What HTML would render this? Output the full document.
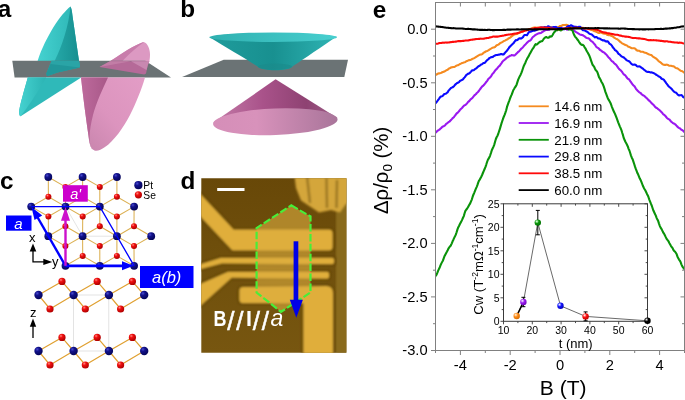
<!DOCTYPE html>
<html><head><meta charset="utf-8"><title>Figure</title>
<style>
html,body{margin:0;padding:0;background:#fff;}
body{width:685px;height:400px;overflow:hidden;}
svg{display:block;}
text{font-family:"Liberation Sans",Arial,sans-serif;fill:#000;}
.pl{font-weight:bold;font-size:24.3px;}
.tk{font-size:14.7px;}
.lg{font-size:13.3px;}
.itk{font-size:10.5px;}
</style></head><body>
<svg width="685" height="400" viewBox="0 0 685 400">
<defs>
<linearGradient id="tealA" x1="0" y1="0" x2="1" y2="0"><stop offset="0" stop-color="#45d2d0"/><stop offset="1" stop-color="#2bb3b3"/></linearGradient>
<linearGradient id="tealB" x1="0" y1="0" x2="1" y2="0"><stop offset="0" stop-color="#25a8a8"/><stop offset="1" stop-color="#168f90"/></linearGradient>
<linearGradient id="pinkA" x1="0" y1="1" x2="1" y2="0"><stop offset="0" stop-color="#c683ab"/><stop offset="0.45" stop-color="#dc94be"/><stop offset="1" stop-color="#e39dc6"/></linearGradient>
<linearGradient id="pinkB" x1="0" y1="0" x2="1" y2="0"><stop offset="0" stop-color="#bd6a9c"/><stop offset="1" stop-color="#a85888"/></linearGradient>
<linearGradient id="tealC" x1="0" y1="0" x2="1" y2="0"><stop offset="0" stop-color="#1f9c9c"/><stop offset="0.5" stop-color="#189090"/><stop offset="1" stop-color="#2fb4b4"/></linearGradient>
<linearGradient id="tealTop" x1="0" y1="0" x2="1" y2="0"><stop offset="0" stop-color="#2fb0b0"/><stop offset="1" stop-color="#48cfcf"/></linearGradient>
<linearGradient id="pinkC" x1="0" y1="0" x2="1" y2="0"><stop offset="0" stop-color="#c47ca8"/><stop offset="0.4" stop-color="#a9528a"/><stop offset="0.75" stop-color="#8e4272"/><stop offset="1" stop-color="#a0608a"/></linearGradient>
<linearGradient id="pinkBase" x1="0" y1="0" x2="1" y2="0"><stop offset="0" stop-color="#d58eb8"/><stop offset="0.35" stop-color="#d892bb"/><stop offset="1" stop-color="#a9759a"/></linearGradient>
<radialGradient id="sPt" cx="0.35" cy="0.3" r="0.7"><stop offset="0" stop-color="#4a4ad0"/><stop offset="0.35" stop-color="#12128c"/><stop offset="1" stop-color="#05055a"/></radialGradient>
<radialGradient id="sSe" cx="0.35" cy="0.3" r="0.7"><stop offset="0" stop-color="#ff8a80"/><stop offset="0.35" stop-color="#f01010"/><stop offset="1" stop-color="#b00000"/></radialGradient>
<linearGradient id="bgD" x1="0" y1="0" x2="0" y2="1"><stop offset="0" stop-color="#684808"/><stop offset="0.5" stop-color="#70500c"/><stop offset="1" stop-color="#775610"/></linearGradient>
<filter id="bl" x="-5%" y="-5%" width="110%" height="110%"><feGaussianBlur stdDeviation="1.1"/></filter>
<filter id="bl2" x="-5%" y="-5%" width="110%" height="110%"><feGaussianBlur stdDeviation="0.5"/></filter>
<clipPath id="clipD"><rect x="201.3" y="178.2" width="145.1" height="174.5"/></clipPath>
<clipPath id="clipE"><rect x="435.5" y="2.5" width="249.5" height="348"/></clipPath>

<radialGradient id="mo" cx="0.35" cy="0.32" r="0.75"><stop offset="0" stop-color="#fff"/><stop offset="0.12" stop-color="#ffd9a8"/><stop offset="0.42" stop-color="#ff8c1a"/><stop offset="1" stop-color="#d06a00"/></radialGradient>
<radialGradient id="mp" cx="0.35" cy="0.32" r="0.75"><stop offset="0" stop-color="#fff"/><stop offset="0.12" stop-color="#e0b8ff"/><stop offset="0.42" stop-color="#9b1ff0"/><stop offset="1" stop-color="#6a00b8"/></radialGradient>
<radialGradient id="mg" cx="0.35" cy="0.32" r="0.75"><stop offset="0" stop-color="#fff"/><stop offset="0.12" stop-color="#a8f0a8"/><stop offset="0.42" stop-color="#0a960a"/><stop offset="1" stop-color="#006a00"/></radialGradient>
<radialGradient id="mb" cx="0.35" cy="0.32" r="0.75"><stop offset="0" stop-color="#fff"/><stop offset="0.12" stop-color="#b0b8ff"/><stop offset="0.42" stop-color="#1414ff"/><stop offset="1" stop-color="#0000b0"/></radialGradient>
<radialGradient id="mr" cx="0.35" cy="0.32" r="0.75"><stop offset="0" stop-color="#fff"/><stop offset="0.12" stop-color="#ffb8b8"/><stop offset="0.42" stop-color="#ff1010"/><stop offset="1" stop-color="#b80000"/></radialGradient>
<radialGradient id="mk" cx="0.35" cy="0.32" r="0.75"><stop offset="0" stop-color="#fff"/><stop offset="0.12" stop-color="#9a9a9a"/><stop offset="0.42" stop-color="#000000"/><stop offset="1" stop-color="#000000"/></radialGradient>
</defs>
<rect width="685" height="400" fill="#fff"/>
<text class="pl" x="-2.2" y="17.4">a</text>
<text class="pl" x="180.3" y="17.2">b</text>
<text class="pl" x="0" y="189">c</text>
<text class="pl" x="180.6" y="189.1">d</text>
<text class="pl" x="372.8" y="17.8">e</text>
<g id="panel-a">
<path d="M70.4,6.6 C61,14 46,36 37.6,60.9 L79,60.9 L72.5,16 C72,11 71.3,7.5 70.4,6.6Z" fill="url(#tealA)"/>
<path d="M70.4,6.6 C69,25 62,47 54.6,60.9 L79,60.9 L72.5,16 C72,11 71.3,7.5 70.4,6.6Z" fill="url(#tealB)"/>
<path d="M110,61.3 C118,56 130,47.5 139.8,43.4 C142,42.3 143.5,42 144.2,42.2 C147,43 150,48 150,54.3 C150,57 149.8,59 149.4,61.3 Z" fill="#dc99c2"/>
<path d="M110,61.3 C118,56 130,47.5 139.8,43.4 C142,42.3 143.5,42 144.2,42.2 C138,46 129,54 122.3,61.3 Z" fill="#c87cab"/>
<polygon points="12.3,60.8 145.3,60.8 171,77.4 14.6,77.4" fill="#6b7375"/>
<path d="M51.4,60.8 L79,60.8 C80,63 80.3,66 79.8,67.6 L57.5,72.5 L47,76.2 L46.3,73.4 Z" fill="#2aa4a6"/>
<path d="M79.8,67.6 L57.5,72.5 L47,76.2 L46.3,73.4 L50.5,64 Z" fill="#21979a"/>
<path d="M99.5,67 L110,61.3 L149.4,61.3 L147.7,65.6 L146,73.5 L144.2,74.4 Z" fill="#b56a98"/>
<path d="M99.5,67 L110,61.3 L131,61.3 Z" fill="#c27da6"/>
<path d="M131,61.3 L149.4,61.3 L147.7,65.6 L146.5,70 Z" fill="#c888b0"/>
<path d="M27.8,77.4 L81.2,77.4 L20.6,116.3 C19.3,116 18.8,113 19.4,109.3 C20.3,104 23,94 27.8,77.4Z" fill="#2fb9b9"/>
<path d="M27.8,77.4 L46.2,77.4 C43,83 35,96 29.5,104 C25,110.5 22,114.5 20.6,116.3 C19.3,116 18.8,113 19.4,109.3 C20.3,104 23,94 27.8,77.4Z" fill="url(#tealA)"/>
<path d="M81,77.4 L145,77.4 C142,88 136,103 130,115 C124,127 113,142 105,147 C101,150 97,151.5 94.5,150.5 C91,149 90,146 88.4,135 C86.5,122 83.5,100 81,77.4Z" fill="url(#pinkA)"/>
<path d="M81,77.4 L108,77.4 C103,88 96,103 93,115 C91,123 89.6,131 89.6,137 C89.7,143 90.5,147 92.5,149.5 C90,147 89,141 88.4,135 C86.5,122 83.5,100 81,77.4Z" fill="url(#pinkB)"/>
</g>
<g id="panel-b">
<polygon points="223.7,59.8 348,59.8 344.3,77.1 182.1,77.1" fill="#6b7375"/>
<path d="M209.5,37.2 C225,46.5 245,58.5 257,66 C258.5,69 268,70.3 275,70.3 C283,70.3 291.5,69 293,66 C305,58.5 322,46.5 336.8,36.6 Z" fill="url(#tealC)"/>
<ellipse cx="273.2" cy="37.2" rx="63.8" ry="4.7" fill="url(#tealTop)"/>
<ellipse cx="275" cy="66.5" rx="17" ry="3" fill="#1a8a8a" opacity="0.6"/>
<path d="M275.6,79.3 L213.2,122.6 L275,124 L337.5,117.9 Z" fill="url(#pinkC)"/>
<ellipse cx="275.3" cy="121.7" rx="62.3" ry="13.3" transform="rotate(-2.2 275.3 121.7)" fill="url(#pinkBase)"/>
</g>
<g id="panel-c">
<path d="M65.4,186.9L48.3,177M65.4,186.9L82.6,177M65.4,186.9L65.5,206.6M99.8,186.9L82.6,177M99.8,186.9L116.9,177M99.8,186.9L99.8,206.6M48.4,196.7L31.2,206.6M48.4,196.7L65.5,206.6M48.4,196.7L48.3,177M82.7,196.7L65.5,206.6M82.7,196.7L99.8,206.6M82.7,196.7L82.6,177M116.9,196.7L99.8,206.6M116.9,196.7L134.1,206.6M116.9,196.7L116.9,177M48.4,216.5L31.2,206.6M48.4,216.5L65.5,206.6M48.4,216.5L48.3,236.2M82.7,216.5L65.5,206.6M82.7,216.5L99.8,206.6M82.7,216.5L82.6,236.2M116.9,216.5L99.8,206.6M116.9,216.5L134.1,206.6M116.9,216.5L116.9,236.2M65.4,226.3L48.3,236.2M65.4,226.3L82.6,236.2M65.4,226.3L65.5,206.6M99.8,226.3L82.6,236.2M99.8,226.3L116.9,236.2M99.8,226.3L99.8,206.6M134,226.3L116.9,236.2M134,226.3L151.2,236.2M134,226.3L134.1,206.6M65.4,246.1L48.3,236.2M65.4,246.1L82.6,236.2M65.4,246.1L65.5,265.8M99.8,246.1L82.6,236.2M99.8,246.1L116.9,236.2M99.8,246.1L99.8,265.8M134,246.1L116.9,236.2M134,246.1L151.2,236.2M134,246.1L134.1,265.8M82.7,255.9L65.5,265.8M82.7,255.9L99.8,265.8M82.7,255.9L82.6,236.2M116.9,255.9L99.8,265.8M116.9,255.9L134.1,265.8M116.9,255.9L116.9,236.2" stroke="#dcb052" stroke-width="1.05" fill="none"/>
<path d="M65.5,206.6 L82.6,236.2 L116.9,236.2 L99.8,206.6" stroke="#d8d8d8" stroke-width="0.7" fill="none"/>
<circle cx="65.4" cy="186.9" r="3" fill="url(#sSe)"/>
<circle cx="99.8" cy="186.9" r="3" fill="url(#sSe)"/>
<circle cx="48.4" cy="196.7" r="3" fill="url(#sSe)"/>
<circle cx="82.7" cy="196.7" r="3" fill="url(#sSe)"/>
<circle cx="116.9" cy="196.7" r="3" fill="url(#sSe)"/>
<circle cx="48.4" cy="216.5" r="3" fill="url(#sSe)"/>
<circle cx="82.7" cy="216.5" r="3" fill="url(#sSe)"/>
<circle cx="116.9" cy="216.5" r="3" fill="url(#sSe)"/>
<circle cx="65.4" cy="226.3" r="3" fill="url(#sSe)"/>
<circle cx="99.8" cy="226.3" r="3" fill="url(#sSe)"/>
<circle cx="134" cy="226.3" r="3" fill="url(#sSe)"/>
<circle cx="65.4" cy="246.1" r="3" fill="url(#sSe)"/>
<circle cx="99.8" cy="246.1" r="3" fill="url(#sSe)"/>
<circle cx="134" cy="246.1" r="3" fill="url(#sSe)"/>
<circle cx="82.7" cy="255.9" r="3" fill="url(#sSe)"/>
<circle cx="116.9" cy="255.9" r="3" fill="url(#sSe)"/>
<circle cx="48.3" cy="177" r="3.9" fill="url(#sPt)"/>
<circle cx="82.6" cy="177" r="3.9" fill="url(#sPt)"/>
<circle cx="116.9" cy="177" r="3.9" fill="url(#sPt)"/>
<circle cx="31.2" cy="206.6" r="3.9" fill="url(#sPt)"/>
<circle cx="65.5" cy="206.6" r="3.9" fill="url(#sPt)"/>
<circle cx="99.8" cy="206.6" r="3.9" fill="url(#sPt)"/>
<circle cx="134.1" cy="206.6" r="3.9" fill="url(#sPt)"/>
<circle cx="48.3" cy="236.2" r="3.9" fill="url(#sPt)"/>
<circle cx="82.6" cy="236.2" r="3.9" fill="url(#sPt)"/>
<circle cx="116.9" cy="236.2" r="3.9" fill="url(#sPt)"/>
<circle cx="151.2" cy="236.2" r="3.9" fill="url(#sPt)"/>
<circle cx="65.5" cy="265.8" r="3.9" fill="url(#sPt)"/>
<circle cx="99.8" cy="265.8" r="3.9" fill="url(#sPt)"/>
<circle cx="134.1" cy="265.8" r="3.9" fill="url(#sPt)"/>
<path d="M31.2,206.6 L99.8,206.6 L134.1,265.8" stroke="#0000ff" stroke-width="1.3" fill="none"/>
<line x1="65.5" y1="265.8" x2="36.5" y2="215.5" stroke="#0000ff" stroke-width="2.4"/>
<polygon points="31.5,207 42.2,215.5 34.5,220" fill="#0000ff"/>
<line x1="65.5" y1="265.8" x2="124" y2="265.8" stroke="#0000ff" stroke-width="2.8"/>
<polygon points="133.5,265.8 122,261.3 122,270.3" fill="#0000ff"/>
<line x1="65.5" y1="265.8" x2="65.5" y2="218" stroke="#cc10cc" stroke-width="2.4"/>
<polygon points="65.5,207 61,220.8 70,220.8" fill="#cc10cc"/>
<rect x="63" y="185.2" width="24.8" height="16.5" fill="#cc00cc"/>
<text x="75.7" y="198.5" font-size="14.5" font-style="italic" text-anchor="middle" style="fill:#fff">a'</text>
<rect x="6" y="215.5" width="25.5" height="15.2" fill="#0000ff"/>
<text x="18.5" y="228.5" font-size="15" font-style="italic" text-anchor="middle" style="fill:#fff">a</text>
<rect x="140" y="266" width="53.5" height="22" fill="#0000ff"/>
<text x="166.7" y="283" font-size="16.5" font-style="italic" text-anchor="middle" style="fill:#fff">a(b)</text>
<circle cx="138.4" cy="185.2" r="4.1" fill="url(#sPt)"/><circle cx="138.4" cy="194.8" r="3.6" fill="url(#sSe)"/>
<text x="143.3" y="188.9" font-size="10.3">Pt</text><text x="143.3" y="198.5" font-size="10.3">Se</text>
<path d="M33,250 V261.9 H45" stroke="#000" stroke-width="1.3" fill="none"/>
<polygon points="33,243.6 29.7,251.6 36.3,251.6" fill="#000"/><polygon points="52.3,261.9 43.3,258.8 43.3,265" fill="#000"/>
<text x="28.9" y="242" font-size="13">x</text><text x="52" y="265.8" font-size="13">y</text>
<rect x="73.6" y="295" width="35.2" height="56" stroke="#dcdcdc" stroke-width="0.8" fill="none"/>
<path d="M38.5,295L62,281.4L73.6,295M73.6,295L97.2,281.4L108.9,295M108.9,295L132.4,281.4L144.2,295M38.5,295L50,309L73.6,295M73.6,295L85.3,309L108.9,295M108.9,295L120.6,309L144.2,295" stroke="#e0a030" stroke-width="1.2" fill="none"/>
<circle cx="62" cy="281.4" r="3.6" fill="url(#sSe)"/>
<circle cx="97.2" cy="281.4" r="3.6" fill="url(#sSe)"/>
<circle cx="132.4" cy="281.4" r="3.6" fill="url(#sSe)"/>
<circle cx="50" cy="309" r="3.6" fill="url(#sSe)"/>
<circle cx="85.3" cy="309" r="3.6" fill="url(#sSe)"/>
<circle cx="120.6" cy="309" r="3.6" fill="url(#sSe)"/>
<circle cx="38.5" cy="295" r="4.2" fill="url(#sPt)"/>
<circle cx="73.6" cy="295" r="4.2" fill="url(#sPt)"/>
<circle cx="108.9" cy="295" r="4.2" fill="url(#sPt)"/>
<circle cx="144.2" cy="295" r="4.2" fill="url(#sPt)"/>
<path d="M38.5,351L62,337.4L73.6,351M73.6,351L97.2,337.4L108.9,351M108.9,351L132.4,337.4L144.2,351M38.5,351L50,365L73.6,351M73.6,351L85.3,365L108.9,351M108.9,351L120.6,365L144.2,351" stroke="#e0a030" stroke-width="1.2" fill="none"/>
<circle cx="62" cy="337.4" r="3.6" fill="url(#sSe)"/>
<circle cx="97.2" cy="337.4" r="3.6" fill="url(#sSe)"/>
<circle cx="132.4" cy="337.4" r="3.6" fill="url(#sSe)"/>
<circle cx="50" cy="365" r="3.6" fill="url(#sSe)"/>
<circle cx="85.3" cy="365" r="3.6" fill="url(#sSe)"/>
<circle cx="120.6" cy="365" r="3.6" fill="url(#sSe)"/>
<circle cx="38.5" cy="351" r="4.2" fill="url(#sPt)"/>
<circle cx="73.6" cy="351" r="4.2" fill="url(#sPt)"/>
<circle cx="108.9" cy="351" r="4.2" fill="url(#sPt)"/>
<circle cx="144.2" cy="351" r="4.2" fill="url(#sPt)"/>
<text x="30" y="316.9" font-size="13">z</text>
<line x1="33" y1="338" x2="33" y2="325" stroke="#000" stroke-width="1.3"/><polygon points="33,318.5 29.8,326.8 36.2,326.8" fill="#000"/>
</g>
<g id="panel-d">
<g clip-path="url(#clipD)">
<rect x="201" y="178" width="147" height="175" fill="url(#bgD)"/>
<rect x="336" y="178" width="12" height="175" fill="#896a1f" filter="url(#bl)"/>
<g filter="url(#bl)" stroke="#5c3f06" stroke-width="1.6">
<path d="M294,172 L350,172 L350,202 L346,204 L340,212.5 L331,210 L319,212.5 L310,206.5 L301,200.5 L296,188 Z" fill="#d4a63a" stroke="none"/>
<path d="M307,176 L310,203 M326.5,178 L327,208 M337,180 L336.5,208" stroke="#9a7622" stroke-width="2.4" fill="none"/>
<path d="M190,181.5 L234,228.8 L329,228.8 Q333.5,228.8 333.5,233.5 L333.5,246.5 Q333.5,251.2 329,251.2 L232,251.2 L190,206.7 Z" fill="#e0ae3a"/>
<path d="M190,266.5 L201.5,263 L220.7,257 L332,257 Q335,257 335,260 L335,262 Q335,265 332,265 L222,264.3 L201.5,269.8 L190,273 Z" fill="#e0ae3a"/>
<path d="M190,287.5 L201.5,282.5 L227.7,271 L327,271 Q330,271 330,274 L330,276.5 Q330,279.5 327,279.5 L232,278.5 L201.5,306 L190,316 Z" fill="#e0ae3a"/>
<path d="M243,286.3 L326.5,285.3 Q333.8,285.3 333.8,293 L333.8,360 L302.5,360 L302.5,304 L243,304 Q238.5,304 238.5,299.5 L238.5,291 Q238.5,286.3 243,286.3Z" fill="#e0ae3a"/>
</g>
<polygon points="291.3,205.4 310.5,216.5 310.5,292.5 281,311.8 256.6,292.5 256.6,228" fill="#dcae40" opacity="0.6"/>
</g>
<polygon points="291.3,205.4 310.5,216.5 310.5,292.5 281,311.8 256.6,292.5 256.6,228" fill="none" stroke="#48ee38" stroke-width="2.2" stroke-dasharray="7.5 2.4"/>
<rect x="217.2" y="188" width="27.3" height="3" fill="#fff"/>
<rect x="293.6" y="241.3" width="4.7" height="59.5" fill="#0000e6"/><polygon points="289.8,299.7 302.9,299.7 296.3,317.8" fill="#0000e6"/>
<g style="fill:#fff">
<text x="213.4" y="326" font-size="21.5" font-weight="bold" textLength="13" lengthAdjust="spacingAndGlyphs" style="fill:#fff">B</text>
<text y="329.6" font-size="26" style="fill:#fff" stroke="#fff" stroke-width="0.5"><tspan x="227.2">/</tspan><tspan x="236.2">/</tspan><tspan x="252.8">/</tspan><tspan x="261.8">/</tspan></text>
<text x="245.9" y="326" font-size="21.5" font-weight="bold" style="fill:#fff">I</text>
<text x="270.6" y="326" font-size="23" font-style="italic" style="fill:#fff">a</text>
</g>
</g>
<g id="panel-e">
<g clip-path="url(#clipE)" fill="none" stroke-linejoin="round" stroke-linecap="round">
<path d="M435,75.33 435.8,74.91 436.6,74.54 437.4,73.96 438.2,73.55 439,73.36 439.8,73.20 440.6,72.99 441.4,72.76 442.2,72.27 443,71.92 443.8,71.65 444.6,71.48 445.4,70.88 446.2,70.38 447,70.00 447.8,69.63 448.6,68.90 449.4,68.24 450.2,67.97 451,67.50 451.8,67.20 452.6,67.16 453.4,67.02 454.2,66.94 455,66.59 455.8,66.01 456.6,65.64 457.4,65.31 458.2,65.17 459,64.71 459.8,64.19 460.6,63.72 461.4,63.40 462.2,63.00 463,62.77 463.8,62.47 464.6,62.30 465.4,61.97 466.2,61.38 467,60.95 467.8,60.67 468.6,60.27 469.4,60.09 470.2,60.00 471,59.70 471.8,59.27 472.6,58.74 473.4,58.53 474.2,58.16 475,57.67 475.8,57.11 476.6,56.56 477.4,56.08 478.2,55.58 479,55.13 479.8,54.82 480.6,54.53 481.4,54.52 482.2,54.13 483,53.36 483.8,52.68 484.6,52.21 485.4,51.78 486.2,51.22 487,50.99 487.8,50.68 488.6,50.21 489.4,49.57 490.2,49.08 491,48.65 491.8,48.19 492.6,47.68 493.4,47.51 494.2,47.36 495,46.97 495.8,46.11 496.6,45.42 497.4,44.91 498.2,44.67 499,44.22 499.8,43.47 500.6,42.91 501.4,42.50 502.2,42.06 503,41.54 503.8,41.07 504.6,40.78 505.4,40.41 506.2,39.86 507,39.56 507.8,39.06 508.6,38.36 509.4,37.97 510.2,37.56 511,36.96 511.8,36.24 512.6,35.69 513.4,34.97 514.2,34.52 515,34.09 515.8,34.24 516.6,34.05 517.4,33.92 518.2,33.25 519,32.66 519.8,32.44 520.6,32.29 521.4,31.87 522.2,31.61 523,31.20 523.8,30.97 524.6,30.52 525.4,30.31 526.2,30.05 527,29.65 527.8,29.46 528.6,29.14 529.4,28.94 530.2,28.91 531,28.78 531.8,28.36 532.6,28.03 533.4,27.67 534.2,27.51 535,27.58 535.8,27.61 536.6,27.75 537.4,27.64 538.2,27.58 539,27.68 539.8,27.66 540.6,27.61 541.4,27.55 542.2,27.62 543,27.88 543.8,27.59 544.6,27.37 545.4,27.16 546.2,27.30 547,27.41 547.8,27.45 548.6,27.27 549.4,27.19 550.2,27.06 551,27.11 551.8,27.40 552.6,27.77 553.4,27.67 554.2,27.57 555,27.37 555.8,27.29 556.6,27.25 557.4,27.18 558.2,27.06 559,26.73 559.8,26.07 560.6,25.97 561.4,25.87 562.2,25.51 563,24.97 563.8,24.93 564.6,25.00 565.4,24.93 566.2,24.75 567,24.91 567.8,25.20 568.6,25.96 569.4,26.58 570.2,26.97 571,26.94 571.8,27.06 572.6,27.22 573.4,27.30 574.2,27.12 575,27.09 575.8,27.16 576.6,27.59 577.4,27.52 578.2,27.62 579,27.61 579.8,27.66 580.6,27.62 581.4,27.77 582.2,27.78 583,27.85 583.8,28.12 584.6,28.62 585.4,28.51 586.2,28.34 587,28.08 587.8,28.49 588.6,28.96 589.4,29.34 590.2,29.60 591,29.70 591.8,29.99 592.6,30.23 593.4,30.63 594.2,31.14 595,31.36 595.8,31.57 596.6,31.95 597.4,32.38 598.2,32.83 599,33.01 599.8,32.70 600.6,32.50 601.4,32.58 602.2,33.00 603,33.40 603.8,33.59 604.6,33.59 605.4,33.63 606.2,33.98 607,34.68 607.8,35.02 608.6,35.12 609.4,35.25 610.2,35.33 611,35.67 611.8,36.09 612.6,36.34 613.4,36.98 614.2,37.68 615,38.19 615.8,38.61 616.6,38.93 617.4,39.40 618.2,40.04 619,40.66 619.8,41.50 620.6,42.02 621.4,42.79 622.2,43.43 623,43.82 623.8,44.14 624.6,44.69 625.4,44.88 626.2,45.14 627,45.56 627.8,46.27 628.6,46.79 629.4,47.04 630.2,47.39 631,47.94 631.8,48.14 632.6,48.30 633.4,48.17 634.2,48.31 635,48.59 635.8,49.24 636.6,50.21 637.4,50.60 638.2,50.67 639,50.81 639.8,51.08 640.6,51.71 641.4,51.75 642.2,51.68 643,51.82 643.8,52.26 644.6,52.67 645.4,52.71 646.2,52.95 647,53.50 647.8,53.82 648.6,54.25 649.4,54.45 650.2,54.69 651,54.91 651.8,55.48 652.6,56.23 653.4,56.94 654.2,57.29 655,57.78 655.8,58.35 656.6,58.95 657.4,59.75 658.2,60.69 659,61.42 659.8,62.00 660.6,62.43 661.4,63.12 662.2,63.95 663,64.43 663.8,64.81 664.6,64.85 665.4,64.89 666.2,64.71 667,64.61 667.8,64.91 668.6,65.48 669.4,65.73 670.2,65.77 671,65.73 671.8,65.95 672.6,66.18 673.4,66.20 674.2,66.67 675,67.44 675.8,67.92 676.6,68.15 677.4,68.33 678.2,68.83 679,69.53 679.8,70.13 680.6,70.67 681.4,70.89 682.2,71.20 683,71.76 683.8,72.34 684.6,72.86" stroke="#f58a1f" stroke-width="2.1"/>
<path d="M435,132.86 435.8,132.51 436.6,131.79 437.4,130.91 438.2,130.33 439,129.93 439.8,129.32 440.6,128.51 441.4,127.83 442.2,126.99 443,126.45 443.8,126.21 444.6,125.66 445.4,124.89 446.2,123.87 447,123.36 447.8,122.68 448.6,121.99 449.4,121.59 450.2,120.88 451,119.95 451.8,119.10 452.6,118.20 453.4,117.64 454.2,116.70 455,115.71 455.8,114.55 456.6,113.47 457.4,113.02 458.2,112.15 459,111.29 459.8,110.15 460.6,109.25 461.4,108.53 462.2,107.70 463,106.81 463.8,105.92 464.6,105.25 465.4,105.03 466.2,104.31 467,103.38 467.8,102.37 468.6,101.59 469.4,100.88 470.2,99.79 471,99.02 471.8,98.46 472.6,97.76 473.4,96.57 474.2,95.62 475,94.91 475.8,94.27 476.6,93.24 477.4,92.55 478.2,91.72 479,90.77 479.8,89.54 480.6,88.51 481.4,87.45 482.2,86.48 483,85.91 483.8,85.11 484.6,84.04 485.4,83.03 486.2,82.02 487,81.10 487.8,79.91 488.6,78.69 489.4,78.01 490.2,77.38 491,76.40 491.8,75.05 492.6,73.72 493.4,73.02 494.2,71.94 495,70.71 495.8,69.83 496.6,69.13 497.4,68.05 498.2,67.08 499,66.29 499.8,65.59 500.6,64.46 501.4,63.33 502.2,62.02 503,61.14 503.8,60.28 504.6,59.80 505.4,59.16 506.2,58.31 507,57.62 507.8,57.22 508.6,56.62 509.4,56.27 510.2,55.67 511,55.42 511.8,55.06 512.6,55.18 513.4,55.35 514.2,55.57 515,55.03 515.8,54.38 516.6,53.48 517.4,52.65 518.2,51.88 519,51.33 519.8,50.34 520.6,49.44 521.4,48.55 522.2,47.99 523,47.11 523.8,46.11 524.6,45.26 525.4,44.53 526.2,43.64 527,42.76 527.8,41.93 528.6,41.23 529.4,40.86 530.2,40.51 531,39.67 531.8,38.55 532.6,37.26 533.4,36.69 534.2,36.05 535,35.29 535.8,34.72 536.6,34.37 537.4,33.88 538.2,33.59 539,33.23 539.8,33.15 540.6,32.95 541.4,32.73 542.2,32.00 543,31.58 543.8,30.96 544.6,30.54 545.4,30.12 546.2,29.93 547,29.94 547.8,29.88 548.6,29.66 549.4,29.62 550.2,28.86 551,28.91 551.8,28.83 552.6,28.51 553.4,28.20 554.2,28.08 555,28.26 555.8,28.60 556.6,28.51 557.4,28.43 558.2,28.49 559,28.76 559.8,28.62 560.6,28.59 561.4,28.75 562.2,28.64 563,28.48 563.8,28.53 564.6,28.77 565.4,28.90 566.2,29.10 567,29.63 567.8,29.54 568.6,29.04 569.4,28.81 570.2,28.99 571,29.25 571.8,29.67 572.6,30.00 573.4,30.25 574.2,30.62 575,31.30 575.8,31.83 576.6,32.33 577.4,32.75 578.2,33.39 579,33.83 579.8,34.33 580.6,34.71 581.4,34.85 582.2,35.02 583,35.33 583.8,35.97 584.6,36.48 585.4,37.05 586.2,37.78 587,38.02 587.8,38.18 588.6,38.30 589.4,39.03 590.2,40.03 591,40.81 591.8,41.39 592.6,41.92 593.4,42.89 594.2,43.82 595,44.65 595.8,46.00 596.6,47.21 597.4,47.72 598.2,47.94 599,48.73 599.8,49.73 600.6,50.21 601.4,50.76 602.2,51.50 603,52.03 603.8,52.44 604.6,52.98 605.4,53.80 606.2,54.39 607,55.33 607.8,56.49 608.6,57.45 609.4,58.16 610.2,59.06 611,60.16 611.8,61.08 612.6,61.50 613.4,62.33 614.2,63.20 615,63.94 615.8,64.56 616.6,65.38 617.4,66.70 618.2,67.90 619,68.92 619.8,69.60 620.6,70.24 621.4,71.16 622.2,72.06 623,73.28 623.8,74.32 624.6,74.85 625.4,75.50 626.2,76.58 627,77.83 627.8,78.66 628.6,78.90 629.4,79.96 630.2,81.07 631,82.20 631.8,83.35 632.6,84.48 633.4,85.32 634.2,85.96 635,87.07 635.8,88.54 636.6,89.60 637.4,90.39 638.2,91.16 639,91.96 639.8,92.63 640.6,93.03 641.4,93.95 642.2,94.72 643,95.29 643.8,95.67 644.6,96.19 645.4,96.97 646.2,97.73 647,98.39 647.8,99.33 648.6,100.17 649.4,100.85 650.2,101.59 651,102.48 651.8,103.35 652.6,104.13 653.4,104.80 654.2,105.65 655,106.80 655.8,107.56 656.6,107.96 657.4,108.47 658.2,109.15 659,109.75 659.8,110.38 660.6,111.18 661.4,111.98 662.2,112.87 663,113.89 663.8,114.67 664.6,115.16 665.4,115.95 666.2,117.09 667,117.94 667.8,118.59 668.6,119.13 669.4,119.55 670.2,120.44 671,121.49 671.8,122.18 672.6,122.79 673.4,123.33 674.2,123.68 675,124.17 675.8,124.89 676.6,125.86 677.4,126.66 678.2,127.36 679,127.99 679.8,128.29 680.6,129.01 681.4,129.76 682.2,130.05 683,130.57 683.8,131.53 684.6,132.33" stroke="#9a18f0" stroke-width="2.1"/>
<path d="M435,277.08 435.8,275.51 436.6,274.52 437.4,272.69 438.2,270.62 439,268.88 439.8,267.18 440.6,265.20 441.4,263.38 442.2,261.88 443,260.42 443.8,258.05 444.6,255.99 445.4,254.46 446.2,252.90 447,251.47 447.8,249.93 448.6,248.28 449.4,247.13 450.2,246.30 451,245.08 451.8,243.31 452.6,241.32 453.4,239.70 454.2,237.86 455,236.32 455.8,234.63 456.6,232.27 457.4,229.59 458.2,227.44 459,225.96 459.8,224.32 460.6,222.78 461.4,221.26 462.2,219.63 463,217.77 463.8,216.09 464.6,213.29 465.4,210.91 466.2,209.71 467,208.76 467.8,207.45 468.6,206.13 469.4,204.58 470.2,203.33 471,201.38 471.8,199.56 472.6,196.96 473.4,194.71 474.2,192.86 475,190.85 475.8,188.86 476.6,187.08 477.4,185.14 478.2,182.70 479,180.61 479.8,179.55 480.6,177.95 481.4,176.44 482.2,174.74 483,172.76 483.8,170.84 484.6,168.97 485.4,167.15 486.2,164.81 487,162.26 487.8,159.99 488.6,158.62 489.4,157.31 490.2,155.26 491,152.85 491.8,150.24 492.6,148.58 493.4,146.88 494.2,144.86 495,141.96 495.8,139.25 496.6,137.26 497.4,135.94 498.2,134.03 499,131.53 499.8,129.06 500.6,126.43 501.4,123.68 502.2,121.25 503,118.97 503.8,116.72 504.6,114.90 505.4,112.68 506.2,110.24 507,106.91 507.8,104.65 508.6,102.36 509.4,100.33 510.2,98.02 511,96.16 511.8,94.38 512.6,92.19 513.4,90.00 514.2,88.70 515,87.30 515.8,86.26 516.6,84.66 517.4,82.10 518.2,79.67 519,77.90 519.8,76.15 520.6,74.65 521.4,72.91 522.2,70.70 523,68.29 523.8,65.90 524.6,64.34 525.4,62.72 526.2,60.60 527,58.99 527.8,57.53 528.6,56.33 529.4,54.60 530.2,53.17 531,51.73 531.8,50.22 532.6,48.94 533.4,47.90 534.2,46.52 535,44.94 535.8,44.09 536.6,44.57 537.4,44.14 538.2,43.32 539,42.53 539.8,41.89 540.6,41.71 541.4,41.20 542.2,41.19 543,40.02 543.8,38.71 544.6,37.93 545.4,37.41 546.2,36.99 547,37.44 547.8,37.77 548.6,37.82 549.4,36.76 550.2,36.35 551,36.65 551.8,36.26 552.6,34.93 553.4,33.48 554.2,32.25 555,31.48 555.8,30.46 556.6,30.20 557.4,30.26 558.2,29.83 559,29.52 559.8,29.98 560.6,30.44 561.4,30.16 562.2,29.64 563,29.08 563.8,28.93 564.6,28.72 565.4,28.73 566.2,28.43 567,28.44 567.8,28.77 568.6,29.54 569.4,29.41 570.2,29.36 571,29.61 571.8,29.97 572.6,30.78 573.4,33.19 574.2,35.10 575,36.61 575.8,37.45 576.6,38.45 577.4,39.53 578.2,40.50 579,41.83 579.8,43.03 580.6,44.03 581.4,44.68 582.2,44.87 583,44.90 583.8,45.65 584.6,47.29 585.4,48.30 586.2,49.95 587,51.49 587.8,52.71 588.6,54.25 589.4,55.79 590.2,57.87 591,60.31 591.8,62.62 592.6,64.78 593.4,65.71 594.2,66.91 595,68.74 595.8,70.25 596.6,70.97 597.4,72.28 598.2,74.70 599,77.17 599.8,78.41 600.6,79.78 601.4,81.76 602.2,83.03 603,84.54 603.8,86.69 604.6,89.10 605.4,91.88 606.2,93.95 607,96.03 607.8,98.15 608.6,99.65 609.4,100.97 610.2,102.45 611,104.26 611.8,106.62 612.6,108.63 613.4,110.52 614.2,112.31 615,113.86 615.8,115.90 616.6,117.89 617.4,120.04 618.2,122.30 619,124.32 619.8,126.33 620.6,128.13 621.4,130.06 622.2,132.78 623,135.16 623.8,138.16 624.6,140.00 625.4,141.76 626.2,143.16 627,144.81 627.8,146.41 628.6,148.83 629.4,150.54 630.2,152.98 631,155.60 631.8,157.67 632.6,159.18 633.4,161.65 634.2,164.04 635,166.66 635.8,168.93 636.6,170.91 637.4,173.02 638.2,174.57 639,176.54 639.8,178.58 640.6,180.05 641.4,181.82 642.2,184.00 643,186.07 643.8,187.71 644.6,189.20 645.4,190.58 646.2,192.17 647,193.96 647.8,195.46 648.6,197.49 649.4,199.83 650.2,201.88 651,203.93 651.8,205.74 652.6,208.23 653.4,210.55 654.2,212.30 655,213.97 655.8,215.63 656.6,217.87 657.4,219.61 658.2,221.09 659,223.58 659.8,225.80 660.6,227.67 661.4,228.81 662.2,230.37 663,232.10 663.8,233.32 664.6,234.68 665.4,236.38 666.2,237.95 667,239.38 667.8,240.38 668.6,241.46 669.4,243.18 670.2,244.60 671,246.05 671.8,247.08 672.6,248.16 673.4,249.95 674.2,250.99 675,251.57 675.8,252.74 676.6,254.07 677.4,256.42 678.2,258.07 679,259.56 679.8,260.63 680.6,262.07 681.4,264.30 682.2,266.18 683,267.45 683.8,268.45 684.6,269.21" stroke="#0a930a" stroke-width="2.1"/>
<path d="M435,103.89 435.8,102.94 436.6,102.13 437.4,101.01 438.2,99.89 439,98.85 439.8,97.66 440.6,96.58 441.4,96.49 442.2,96.07 443,95.52 443.8,94.48 444.6,93.99 445.4,93.79 446.2,93.47 447,92.78 447.8,92.09 448.6,90.46 449.4,89.81 450.2,88.91 451,88.00 451.8,87.64 452.6,87.31 453.4,86.67 454.2,85.91 455,84.87 455.8,84.12 456.6,83.46 457.4,82.96 458.2,82.53 459,82.06 459.8,81.03 460.6,80.56 461.4,80.27 462.2,79.79 463,79.39 463.8,78.21 464.6,77.36 465.4,76.28 466.2,75.15 467,74.51 467.8,73.98 468.6,73.54 469.4,73.44 470.2,72.47 471,71.59 471.8,70.54 472.6,70.34 473.4,70.31 474.2,69.76 475,69.10 475.8,68.69 476.6,68.10 477.4,67.21 478.2,66.47 479,66.05 479.8,65.52 480.6,64.95 481.4,64.46 482.2,64.09 483,63.37 483.8,62.94 484.6,62.88 485.4,62.20 486.2,61.17 487,60.24 487.8,59.60 488.6,58.96 489.4,58.00 490.2,57.69 491,57.28 491.8,57.13 492.6,57.03 493.4,56.44 494.2,55.91 495,55.50 495.8,55.09 496.6,55.05 497.4,55.03 498.2,54.78 499,54.64 499.8,54.52 500.6,54.09 501.4,53.93 502.2,54.24 503,54.63 503.8,54.23 504.6,53.23 505.4,52.34 506.2,51.55 507,50.53 507.8,49.51 508.6,48.34 509.4,47.09 510.2,46.38 511,45.60 511.8,44.76 512.6,44.03 513.4,43.27 514.2,42.27 515,41.11 515.8,40.09 516.6,40.33 517.4,40.08 518.2,39.19 519,38.59 519.8,38.36 520.6,38.59 521.4,38.37 522.2,37.82 523,37.11 523.8,35.82 524.6,35.07 525.4,34.93 526.2,34.98 527,35.17 527.8,33.81 528.6,32.63 529.4,31.68 530.2,31.61 531,31.59 531.8,31.13 532.6,30.87 533.4,30.82 534.2,30.56 535,30.59 535.8,30.15 536.6,29.90 537.4,29.37 538.2,28.48 539,28.28 539.8,28.10 540.6,27.80 541.4,27.52 542.2,27.62 543,27.74 543.8,27.51 544.6,27.03 545.4,27.17 546.2,27.53 547,27.20 547.8,26.35 548.6,26.30 549.4,26.93 550.2,27.51 551,27.54 551.8,27.69 552.6,27.46 553.4,27.02 554.2,27.04 555,27.05 555.8,26.91 556.6,27.56 557.4,28.37 558.2,28.66 559,28.16 559.8,28.27 560.6,28.29 561.4,27.90 562.2,28.31 563,28.86 563.8,29.24 564.6,29.18 565.4,28.72 566.2,27.96 567,26.86 567.8,26.25 568.6,26.05 569.4,25.88 570.2,25.63 571,25.27 571.8,25.49 572.6,26.05 573.4,26.41 574.2,26.64 575,26.78 575.8,26.78 576.6,27.09 577.4,27.23 578.2,27.10 579,26.72 579.8,26.76 580.6,27.20 581.4,28.46 582.2,29.49 583,30.26 583.8,30.24 584.6,30.53 585.4,30.78 586.2,31.29 587,31.70 587.8,32.18 588.6,32.94 589.4,33.61 590.2,34.03 591,34.17 591.8,34.41 592.6,35.35 593.4,36.01 594.2,36.75 595,37.36 595.8,37.13 596.6,37.10 597.4,37.73 598.2,38.41 599,38.57 599.8,38.54 600.6,39.10 601.4,39.79 602.2,40.06 603,40.43 603.8,40.33 604.6,40.60 605.4,41.35 606.2,41.62 607,41.27 607.8,41.37 608.6,42.42 609.4,43.56 610.2,44.07 611,44.57 611.8,45.57 612.6,47.02 613.4,47.94 614.2,48.95 615,50.05 615.8,50.48 616.6,51.28 617.4,52.09 618.2,53.38 619,54.17 619.8,54.58 620.6,55.53 621.4,56.35 622.2,56.67 623,57.15 623.8,57.37 624.6,58.23 625.4,58.89 626.2,59.80 627,60.39 627.8,60.73 628.6,61.00 629.4,61.53 630.2,62.42 631,63.46 631.8,64.09 632.6,64.64 633.4,64.69 634.2,64.53 635,64.59 635.8,65.03 636.6,65.83 637.4,66.50 638.2,66.44 639,66.38 639.8,66.58 640.6,66.92 641.4,67.69 642.2,68.26 643,68.68 643.8,69.49 644.6,70.14 645.4,70.67 646.2,71.38 647,71.83 647.8,71.99 648.6,71.90 649.4,71.93 650.2,72.46 651,72.56 651.8,72.39 652.6,72.84 653.4,73.04 654.2,73.42 655,73.95 655.8,74.39 656.6,75.10 657.4,75.37 658.2,76.01 659,76.53 659.8,76.87 660.6,77.50 661.4,78.50 662.2,78.99 663,79.24 663.8,79.64 664.6,80.79 665.4,81.91 666.2,83.11 667,84.07 667.8,85.28 668.6,86.20 669.4,86.99 670.2,87.59 671,88.34 671.8,89.03 672.6,90.15 673.4,91.02 674.2,91.86 675,92.28 675.8,92.44 676.6,93.27 677.4,94.15 678.2,94.92 679,95.51 679.8,95.20 680.6,95.24 681.4,95.14 682.2,95.69 683,96.84 683.8,97.35 684.6,97.78" stroke="#0a0aff" stroke-width="2.1"/>
<path d="M435,43.74 435.8,43.71 436.6,43.72 437.4,43.68 438.2,43.45 439,43.12 439.8,43.02 440.6,43.02 441.4,42.98 442.2,42.70 443,42.66 443.8,42.68 444.6,42.59 445.4,42.47 446.2,42.53 447,42.66 447.8,42.58 448.6,42.44 449.4,42.35 450.2,42.30 451,42.14 451.8,42.00 452.6,41.87 453.4,41.83 454.2,41.78 455,41.81 455.8,41.61 456.6,41.40 457.4,41.21 458.2,41.17 459,41.17 459.8,41.14 460.6,41.08 461.4,41.08 462.2,40.98 463,40.86 463.8,40.83 464.6,40.73 465.4,40.53 466.2,40.51 467,40.56 467.8,40.54 468.6,40.38 469.4,40.11 470.2,39.99 471,39.78 471.8,39.79 472.6,39.61 473.4,39.47 474.2,39.34 475,39.26 475.8,39.13 476.6,39.07 477.4,39.00 478.2,39.03 479,38.85 479.8,38.84 480.6,38.66 481.4,38.70 482.2,38.82 483,38.78 483.8,38.64 484.6,38.46 485.4,38.26 486.2,38.14 487,37.96 487.8,37.93 488.6,37.89 489.4,37.62 490.2,37.37 491,37.28 491.8,37.07 492.6,36.78 493.4,36.55 494.2,36.49 495,36.73 495.8,36.60 496.6,36.65 497.4,36.64 498.2,36.45 499,36.34 499.8,36.16 500.6,35.96 501.4,36.01 502.2,35.75 503,35.66 503.8,35.48 504.6,35.27 505.4,35.12 506.2,35.02 507,34.81 507.8,34.69 508.6,34.56 509.4,34.54 510.2,34.48 511,34.26 511.8,34.21 512.6,34.12 513.4,33.83 514.2,33.72 515,33.55 515.8,33.48 516.6,33.30 517.4,33.06 518.2,32.92 519,32.80 519.8,32.47 520.6,32.14 521.4,31.82 522.2,31.70 523,31.43 523.8,31.10 524.6,30.77 525.4,30.56 526.2,30.34 527,30.23 527.8,30.05 528.6,29.76 529.4,29.38 530.2,29.12 531,28.93 531.8,28.83 532.6,28.82 533.4,28.67 534.2,28.36 535,28.09 535.8,28.00 536.6,28.19 537.4,28.16 538.2,28.02 539,27.80 539.8,27.62 540.6,27.51 541.4,27.49 542.2,27.54 543,27.73 543.8,27.59 544.6,27.63 545.4,27.72 546.2,27.77 547,27.78 547.8,27.69 548.6,27.71 549.4,27.99 550.2,28.26 551,28.47 551.8,28.51 552.6,28.45 553.4,28.60 554.2,28.72 555,28.91 555.8,28.99 556.6,28.99 557.4,29.04 558.2,29.16 559,29.10 559.8,29.04 560.6,29.07 561.4,29.14 562.2,28.99 563,28.74 563.8,28.70 564.6,28.80 565.4,28.59 566.2,28.37 567,28.29 567.8,28.20 568.6,28.07 569.4,28.12 570.2,28.21 571,28.32 571.8,28.41 572.6,28.40 573.4,28.21 574.2,27.92 575,27.75 575.8,27.88 576.6,27.86 577.4,27.83 578.2,27.93 579,28.02 579.8,28.04 580.6,27.94 581.4,28.08 582.2,28.21 583,28.25 583.8,28.41 584.6,28.53 585.4,28.54 586.2,28.48 587,28.49 587.8,28.74 588.6,28.83 589.4,28.84 590.2,28.70 591,28.65 591.8,28.74 592.6,28.80 593.4,29.03 594.2,29.29 595,29.43 595.8,29.61 596.6,29.84 597.4,30.01 598.2,30.33 599,30.65 599.8,30.96 600.6,31.31 601.4,31.67 602.2,32.08 603,32.28 603.8,32.37 604.6,32.59 605.4,32.64 606.2,32.68 607,32.95 607.8,33.20 608.6,33.37 609.4,33.42 610.2,33.62 611,33.79 611.8,34.00 612.6,34.08 613.4,34.26 614.2,34.45 615,34.64 615.8,34.78 616.6,34.75 617.4,34.83 618.2,35.01 619,35.31 619.8,35.58 620.6,35.59 621.4,35.77 622.2,36.18 623,36.20 623.8,36.34 624.6,36.51 625.4,36.65 626.2,36.65 627,36.71 627.8,36.71 628.6,36.88 629.4,36.99 630.2,37.32 631,37.55 631.8,37.74 632.6,37.95 633.4,38.08 634.2,37.95 635,37.95 635.8,38.00 636.6,38.19 637.4,38.30 638.2,38.36 639,38.42 639.8,38.42 640.6,38.55 641.4,38.68 642.2,38.78 643,38.85 643.8,38.93 644.6,39.03 645.4,39.29 646.2,39.48 647,39.78 647.8,39.94 648.6,40.16 649.4,40.25 650.2,40.11 651,40.12 651.8,40.19 652.6,40.18 653.4,40.13 654.2,40.19 655,40.23 655.8,40.33 656.6,40.33 657.4,40.47 658.2,40.46 659,40.61 659.8,40.75 660.6,40.85 661.4,40.82 662.2,40.93 663,41.10 663.8,41.36 664.6,41.38 665.4,41.38 666.2,41.31 667,41.27 667.8,41.48 668.6,41.68 669.4,41.79 670.2,41.80 671,41.91 671.8,42.09 672.6,42.17 673.4,42.18 674.2,42.38 675,42.45 675.8,42.47 676.6,42.45 677.4,42.62 678.2,42.84 679,42.82 679.8,42.65 680.6,42.68 681.4,42.78 682.2,43.05 683,43.30 683.8,43.47 684.6,43.54" stroke="#ff0a0a" stroke-width="2.1"/>
<path d="M435,25.96 435.8,26.19 436.6,26.41 437.4,26.55 438.2,26.63 439,26.72 439.8,26.80 440.6,26.86 441.4,26.95 442.2,27.04 443,27.16 443.8,27.30 444.6,27.44 445.4,27.55 446.2,27.68 447,27.74 447.8,27.77 448.6,27.83 449.4,27.93 450.2,28.04 451,28.12 451.8,28.19 452.6,28.22 453.4,28.17 454.2,28.19 455,28.33 455.8,28.47 456.6,28.54 457.4,28.52 458.2,28.51 459,28.54 459.8,28.56 460.6,28.56 461.4,28.54 462.2,28.57 463,28.60 463.8,28.69 464.6,28.83 465.4,28.94 466.2,28.98 467,28.95 467.8,28.91 468.6,28.90 469.4,28.94 470.2,29.03 471,29.15 471.8,29.26 472.6,29.33 473.4,29.37 474.2,29.38 475,29.40 475.8,29.48 476.6,29.53 477.4,29.62 478.2,29.70 479,29.77 479.8,29.86 480.6,29.92 481.4,29.91 482.2,29.91 483,29.89 483.8,29.94 484.6,29.92 485.4,29.92 486.2,30.01 487,30.02 487.8,29.88 488.6,29.79 489.4,29.78 490.2,29.90 491,29.93 491.8,29.97 492.6,30.13 493.4,30.16 494.2,30.09 495,30.04 495.8,30.01 496.6,30.03 497.4,29.99 498.2,29.99 499,30.03 499.8,30.01 500.6,30.01 501.4,29.95 502.2,29.93 503,29.88 503.8,29.89 504.6,29.90 505.4,29.92 506.2,29.81 507,29.66 507.8,29.58 508.6,29.60 509.4,29.62 510.2,29.64 511,29.58 511.8,29.56 512.6,29.57 513.4,29.54 514.2,29.53 515,29.52 515.8,29.48 516.6,29.41 517.4,29.34 518.2,29.39 519,29.47 519.8,29.54 520.6,29.51 521.4,29.40 522.2,29.33 523,29.30 523.8,29.27 524.6,29.26 525.4,29.30 526.2,29.36 527,29.41 527.8,29.40 528.6,29.34 529.4,29.24 530.2,29.26 531,29.41 531.8,29.48 532.6,29.46 533.4,29.44 534.2,29.41 535,29.42 535.8,29.41 536.6,29.42 537.4,29.40 538.2,29.34 539,29.26 539.8,29.19 540.6,29.20 541.4,29.23 542.2,29.26 543,29.21 543.8,29.21 544.6,29.23 545.4,29.18 546.2,29.18 547,29.26 547.8,29.25 548.6,29.14 549.4,29.08 550.2,29.18 551,29.24 551.8,29.26 552.6,29.22 553.4,29.19 554.2,29.18 555,29.19 555.8,29.21 556.6,29.19 557.4,29.12 558.2,29.00 559,28.88 559.8,28.87 560.6,28.91 561.4,28.96 562.2,29.00 563,28.93 563.8,28.80 564.6,28.69 565.4,28.73 566.2,28.76 567,28.75 567.8,28.69 568.6,28.60 569.4,28.52 570.2,28.40 571,28.40 571.8,28.44 572.6,28.42 573.4,28.39 574.2,28.38 575,28.41 575.8,28.37 576.6,28.30 577.4,28.33 578.2,28.35 579,28.36 579.8,28.38 580.6,28.40 581.4,28.34 582.2,28.26 583,28.28 583.8,28.22 584.6,28.19 585.4,28.16 586.2,28.22 587,28.22 587.8,28.19 588.6,28.17 589.4,28.21 590.2,28.25 591,28.32 591.8,28.32 592.6,28.32 593.4,28.21 594.2,28.20 595,28.15 595.8,28.17 596.6,28.18 597.4,28.13 598.2,28.09 599,28.13 599.8,28.18 600.6,28.23 601.4,28.23 602.2,28.31 603,28.30 603.8,28.36 604.6,28.39 605.4,28.39 606.2,28.42 607,28.42 607.8,28.38 608.6,28.44 609.4,28.40 610.2,28.45 611,28.47 611.8,28.51 612.6,28.52 613.4,28.48 614.2,28.49 615,28.57 615.8,28.53 616.6,28.54 617.4,28.54 618.2,28.60 619,28.67 619.8,28.68 620.6,28.60 621.4,28.51 622.2,28.43 623,28.49 623.8,28.57 624.6,28.62 625.4,28.66 626.2,28.71 627,28.83 627.8,28.95 628.6,29.00 629.4,28.98 630.2,28.93 631,28.99 631.8,29.08 632.6,29.09 633.4,29.13 634.2,29.13 635,29.19 635.8,29.19 636.6,29.24 637.4,29.29 638.2,29.31 639,29.35 639.8,29.33 640.6,29.32 641.4,29.31 642.2,29.33 643,29.37 643.8,29.37 644.6,29.41 645.4,29.39 646.2,29.29 647,29.27 647.8,29.29 648.6,29.33 649.4,29.32 650.2,29.21 651,29.20 651.8,29.27 652.6,29.30 653.4,29.28 654.2,29.18 655,29.12 655.8,29.06 656.6,29.06 657.4,29.06 658.2,29.06 659,28.97 659.8,28.94 660.6,28.87 661.4,28.91 662.2,28.95 663,28.94 663.8,28.84 664.6,28.76 665.4,28.65 666.2,28.67 667,28.60 667.8,28.50 668.6,28.45 669.4,28.40 670.2,28.34 671,28.21 671.8,28.09 672.6,28.12 673.4,27.96 674.2,27.82 675,27.81 675.8,27.68 676.6,27.48 677.4,27.31 678.2,27.21 679,27.18 679.8,26.97 680.6,26.76 681.4,26.58 682.2,26.49 683,26.42 683.8,26.27 684.6,26.07" stroke="#000" stroke-width="2.1"/>
</g>
<rect x="435.5" y="2.5" width="249.0" height="348.0" fill="none" stroke="#808080" stroke-width="1"/>
<path d="M435.5,350.5v2.5M435.5,2.5v4M460.4,350.5v4.5M460.4,2.5v4M485.3,350.5v2.5M485.3,2.5v4M510.2,350.5v4.5M510.2,2.5v4M535.1,350.5v2.5M535.1,2.5v4M560,350.5v4.5M560,2.5v4M584.9,350.5v2.5M584.9,2.5v4M609.8,350.5v4.5M609.8,2.5v4M634.7,350.5v2.5M634.7,2.5v4M659.6,350.5v4.5M659.6,2.5v4M684.5,350.5v2.5M684.5,2.5v4M435.5,29.2h-4.5M684.5,29.2h-4M435.5,56h-2.5M684.5,56h-2.5M435.5,82.8h-4.5M684.5,82.8h-4M435.5,109.5h-2.5M684.5,109.5h-2.5M435.5,136.3h-4.5M684.5,136.3h-4M435.5,163.1h-2.5M684.5,163.1h-2.5M435.5,189.8h-4.5M684.5,189.8h-4M435.5,216.6h-2.5M684.5,216.6h-2.5M435.5,243.4h-4.5M684.5,243.4h-4M435.5,270.2h-2.5M684.5,270.2h-2.5M435.5,296.9h-4.5M684.5,296.9h-4M435.5,323.7h-2.5M684.5,323.7h-2.5M435.5,350.5h-4.5M684.5,350.5h-4" stroke="#808080" stroke-width="1" fill="none"/>
<text class="tk" x="427.6" y="33.9" text-anchor="end">0.0</text>
<text class="tk" x="427.6" y="87.5" text-anchor="end">-0.5</text>
<text class="tk" x="427.6" y="141" text-anchor="end">-1.0</text>
<text class="tk" x="427.6" y="194.5" text-anchor="end">-1.5</text>
<text class="tk" x="427.6" y="248.1" text-anchor="end">-2.0</text>
<text class="tk" x="427.6" y="301.6" text-anchor="end">-2.5</text>
<text class="tk" x="427.6" y="355.2" text-anchor="end">-3.0</text>
<text class="tk" x="460.4" y="370" text-anchor="middle">-4</text>
<text class="tk" x="510.2" y="370" text-anchor="middle">-2</text>
<text class="tk" x="560" y="370" text-anchor="middle">0</text>
<text class="tk" x="609.8" y="370" text-anchor="middle">2</text>
<text class="tk" x="659.6" y="370" text-anchor="middle">4</text>
<text x="563.2" y="394.5" font-size="21" text-anchor="middle">B (T)</text>
<text transform="translate(388.2,170.4) rotate(-90)" font-size="20.4" text-anchor="middle">Δρ/ρ<tspan font-size="13.5" dy="3.5">0</tspan><tspan dy="-3.5"> (%)</tspan></text>
<line x1="518.7" y1="106.3" x2="548.8" y2="106.3" stroke="#f58a1f" stroke-width="1.8"/>
<text class="lg" x="554.3" y="111">14.6 nm</text>
<line x1="518.7" y1="123" x2="548.8" y2="123" stroke="#9a18f0" stroke-width="1.8"/>
<text class="lg" x="554.3" y="127.8">16.9 nm</text>
<line x1="518.7" y1="139.8" x2="548.8" y2="139.8" stroke="#0a930a" stroke-width="1.8"/>
<text class="lg" x="554.3" y="144.5">21.9 nm</text>
<line x1="518.7" y1="156.6" x2="548.8" y2="156.6" stroke="#0a0aff" stroke-width="1.8"/>
<text class="lg" x="554.3" y="161.2">29.8 nm</text>
<line x1="518.7" y1="173.3" x2="548.8" y2="173.3" stroke="#ff0a0a" stroke-width="1.8"/>
<text class="lg" x="554.3" y="178">38.5 nm</text>
<line x1="518.7" y1="190.1" x2="548.8" y2="190.1" stroke="#000" stroke-width="1.8"/>
<text class="lg" x="554.3" y="194.8">60.0 nm</text>
<rect x="503.5" y="203.8" width="144.0" height="117.5" fill="#fff" stroke="#3a3a3a" stroke-width="1"/>
<path d="M503.5,321.3v3M503.5,203.8v3M517.9,321.3v1.8M517.9,203.8v1.8M532.3,321.3v3M532.3,203.8v3M546.7,321.3v1.8M546.7,203.8v1.8M561.1,321.3v3M561.1,203.8v3M575.5,321.3v1.8M575.5,203.8v1.8M589.9,321.3v3M589.9,203.8v3M604.3,321.3v1.8M604.3,203.8v1.8M618.7,321.3v3M618.7,203.8v3M633.1,321.3v1.8M633.1,203.8v1.8M647.5,321.3v3M647.5,203.8v3M503.5,321.3h-3M647.5,321.3h-3M503.5,309.6h-1.8M647.5,309.6h-1.8M503.5,297.8h-3M647.5,297.8h-3M503.5,286.1h-1.8M647.5,286.1h-1.8M503.5,274.3h-3M647.5,274.3h-3M503.5,262.6h-1.8M647.5,262.6h-1.8M503.5,250.8h-3M647.5,250.8h-3M503.5,239.1h-1.8M647.5,239.1h-1.8M503.5,227.3h-3M647.5,227.3h-3M503.5,215.6h-1.8M647.5,215.6h-1.8M503.5,203.8h-3M647.5,203.8h-3" stroke="#3a3a3a" stroke-width="0.9" fill="none"/>
<text class="itk" x="499.5" y="325.1" text-anchor="end">0</text>
<text class="itk" x="499.5" y="301.6" text-anchor="end">5</text>
<text class="itk" x="499.5" y="278.1" text-anchor="end">10</text>
<text class="itk" x="499.5" y="254.6" text-anchor="end">15</text>
<text class="itk" x="499.5" y="231.1" text-anchor="end">20</text>
<text class="itk" x="499.5" y="207.6" text-anchor="end">25</text>
<text class="itk" x="503.5" y="333.6" text-anchor="middle">10</text>
<text class="itk" x="532.3" y="333.6" text-anchor="middle">20</text>
<text class="itk" x="561.1" y="333.6" text-anchor="middle">30</text>
<text class="itk" x="589.9" y="333.6" text-anchor="middle">40</text>
<text class="itk" x="618.7" y="333.6" text-anchor="middle">50</text>
<text class="itk" x="647.5" y="333.6" text-anchor="middle">60</text>
<text x="575.7" y="348" font-size="13" text-anchor="middle">t (nm)</text>
<text transform="translate(482.8,264.5) rotate(-90)" font-size="13.2" text-anchor="middle">Cw (T<tspan font-size="8.5" dy="-5">-2</tspan><tspan dy="5">mΩ</tspan><tspan font-size="8.5" dy="-5">-1</tspan><tspan dy="5">cm</tspan><tspan font-size="8.5" dy="-5">-1</tspan><tspan dy="5">)</tspan></text>
<path d="M516.7,316 L523.4,302 L537.8,222.6 L560.5,305.8 L585.6,316.4 L647.5,320.8" stroke="#6a6a6a" stroke-width="1" fill="none"/>
<line x1="516.7" y1="316" x2="523.4" y2="302" stroke="#000" stroke-width="1.6"/>
<path d="M523.4,297.3V306.7M521.4,297.3h4M521.4,306.7h4" stroke="#000" stroke-width="1" fill="none"/>
<path d="M537.8,210.4V234.8M535.8,210.4h4M535.8,234.8h4" stroke="#000" stroke-width="1" fill="none"/>
<path d="M585.6,311.9V320.8M583.6,311.9h4M583.6,320.8h4" stroke="#000" stroke-width="1" fill="none"/>
<circle cx="516.7" cy="316" r="3.2" fill="url(#mo)"/>
<circle cx="523.4" cy="302" r="3.2" fill="url(#mp)"/>
<circle cx="537.8" cy="222.6" r="3.2" fill="url(#mg)"/>
<circle cx="560.5" cy="305.8" r="3.2" fill="url(#mb)"/>
<circle cx="585.6" cy="316.4" r="3.2" fill="url(#mr)"/>
<circle cx="647.5" cy="320.8" r="3.2" fill="url(#mk)"/>
</g>
</svg></body></html>
